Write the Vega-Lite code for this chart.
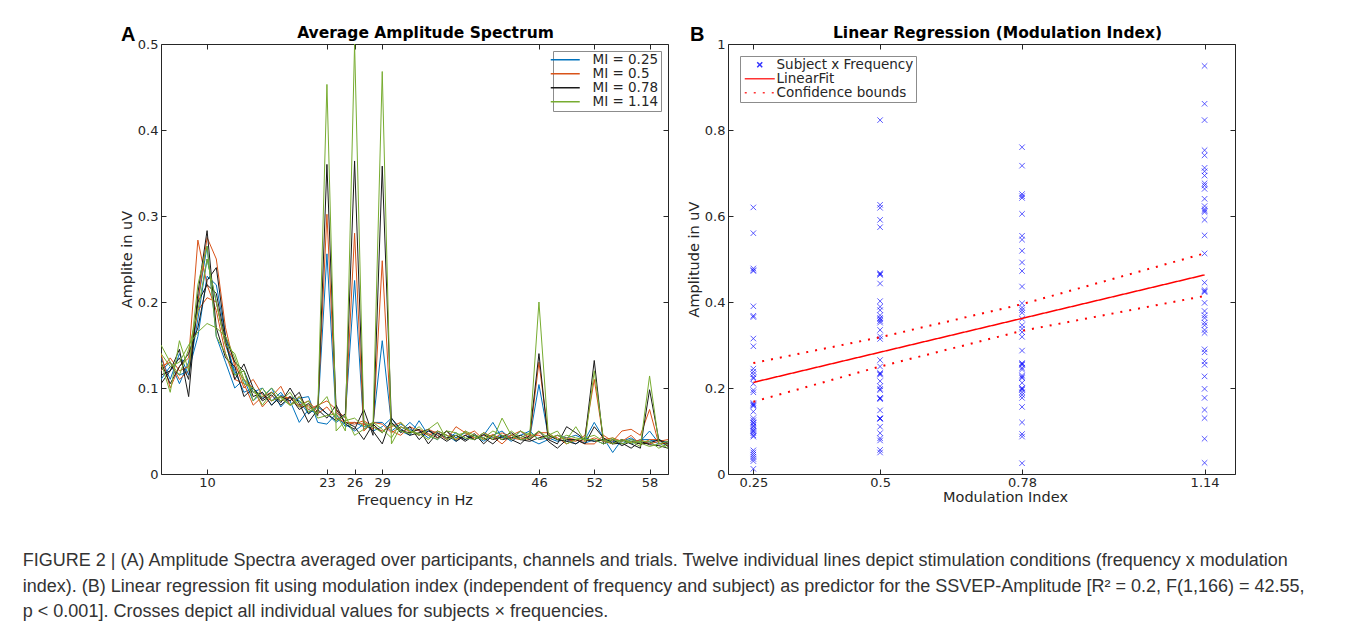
{
"$schema": "https://vega.github.io/schema/vega-lite/v6.json",
"background": "white",
"padding": {"left": 22, "top": 24, "right": 5, "bottom": 5},
"spacing": 16,
"resolve": {"scale": {"color": "independent", "shape": "independent", "strokeDash": "independent"}, "legend": {"color": "independent", "shape": "independent", "strokeDash": "independent"}},
"title": {
 "text": ["FIGURE 2 | (A) Amplitude Spectra averaged over participants, channels and trials. Twelve individual lines depict stimulation conditions (frequency x modulation", "index). (B) Linear regression fit using modulation index (independent of frequency and subject) as predictor for the SSVEP-Amplitude [R² = 0.2, F(1,166) = 42.55,", "p < 0.001]. Crosses depict all individual values for subjects × frequencies."],
 "orient": "bottom", "anchor": "start", "font": "Liberation Sans", "fontSize": 18, "fontWeight": "normal", "color": "#333333", "lineHeight": 25.5, "offset": 45, "dx": -96
},
"config": {
 "font": "DejaVu Sans",
 "view": {"stroke": "#262626", "strokeWidth": 1},
 "axis": {"grid": false, "domain": false, "ticks": true, "tickSize": -5, "tickColor": "#262626", "tickWidth": 1, "labelColor": "#262626", "labelFontSize": 13, "labelFont": "DejaVu Sans", "titleFont": "DejaVu Sans", "titleFontSize": 14.5, "titleFontWeight": "normal", "titleColor": "#262626", "labelPadding": 8},
 "legend": {"labelFont": "DejaVu Sans", "labelFontSize": 13.5, "labelColor": "#262626", "strokeColor": "#8c8c8c", "fillColor": "white", "padding": 2, "rowPadding": -2, "symbolSize": 100, "symbolStrokeWidth": 1.5, "labelLimit": 300}
},
"datasets": {
 "spec": [
{"f":4,"b23":0.14,"b26":0.12,"b29":0.13,"o23":0.125,"o26":0.11,"o29":0.14,"k23":0.145,"k26":0.11,"k29":0.13,"g23":0.15,"g26":0.155,"g29":0.135},
{"f":5,"b23":0.12,"b26":0.135,"b29":0.11,"o23":0.14,"o26":0.125,"o29":0.12,"k23":0.115,"k26":0.13,"k29":0.105,"g23":0.13,"g26":0.14,"g29":0.15},
{"f":6,"b23":0.13,"b26":0.11,"b29":0.125,"o23":0.1,"o26":0.13,"o29":0.135,"k23":0.12,"k26":0.105,"k29":0.12,"g23":0.095,"g26":0.125,"g29":0.13},
{"f":7,"b23":0.105,"b26":0.14,"b29":0.115,"o23":0.125,"o26":0.11,"o29":0.12,"k23":0.145,"k26":0.125,"k29":0.135,"g23":0.155,"g26":0.13,"g29":0.115},
{"f":8,"b23":0.13,"b26":0.115,"b29":0.12,"o23":0.135,"o26":0.12,"o29":0.125,"k23":0.09,"k26":0.14,"k29":0.11,"g23":0.12,"g26":0.15,"g29":0.145},
{"f":9,"b23":0.2,"b26":0.18,"b29":0.16,"o23":0.272,"o26":0.2,"o29":0.19,"k23":0.21,"k26":0.17,"k29":0.2,"g23":0.22,"g26":0.165,"g29":0.19},
{"f":10,"b23":0.265,"b26":0.25,"b29":0.23,"o23":0.22,"o26":0.275,"o29":0.205,"k23":0.283,"k26":0.225,"k29":0.22,"g23":0.265,"g26":0.175,"g29":0.25},
{"f":11,"b23":0.16,"b26":0.2,"b29":0.22,"o23":0.19,"o26":0.25,"o29":0.2,"k23":0.17,"k26":0.24,"k29":0.21,"g23":0.16,"g26":0.17,"g29":0.2},
{"f":12,"b23":0.13,"b26":0.15,"b29":0.16,"o23":0.14,"o26":0.17,"o29":0.15,"k23":0.135,"k26":0.16,"k29":0.155,"g23":0.14,"g26":0.16,"g29":0.15},
{"f":13,"b23":0.1,"b26":0.12,"b29":0.115,"o23":0.11,"o26":0.125,"o29":0.13,"k23":0.125,"k26":0.13,"k29":0.11,"g23":0.115,"g26":0.135,"g29":0.14},
{"f":14,"b23":0.11,"b26":0.095,"b29":0.12,"o23":0.105,"o26":0.11,"o29":0.1,"k23":0.09,"k26":0.12,"k29":0.128,"g23":0.12,"g26":0.105,"g29":0.11},
{"f":15,"b23":0.085,"b26":0.1,"b29":0.095,"o23":0.08,"o26":0.1,"o29":0.11,"k23":0.1,"k26":0.09,"k29":0.1,"g23":0.085,"g26":0.1,"g29":0.095},
{"f":16,"b23":0.095,"b26":0.088,"b29":0.1,"o23":0.09,"o26":0.078,"o29":0.092,"k23":0.085,"k26":0.095,"k29":0.087,"g23":0.1,"g26":0.08,"g29":0.09},
{"f":17,"b23":0.08,"b26":0.1,"b29":0.085,"o23":0.095,"o26":0.09,"o29":0.085,"k23":0.092,"k26":0.08,"k29":0.095,"g23":0.085,"g26":0.095,"g29":0.1},
{"f":18,"b23":0.092,"b26":0.078,"b29":0.095,"o23":0.085,"o26":0.102,"o29":0.09,"k23":0.08,"k26":0.09,"k29":0.083,"g23":0.09,"g26":0.085,"g29":0.088},
{"f":19,"b23":0.085,"b26":0.09,"b29":0.08,"o23":0.09,"o26":0.08,"o29":0.088,"k23":0.09,"k26":0.085,"k29":0.1,"g23":0.08,"g26":0.095,"g29":0.08},
{"f":20,"b23":0.06,"b26":0.085,"b29":0.088,"o23":0.08,"o26":0.09,"o29":0.078,"k23":0.075,"k26":0.095,"k29":0.082,"g23":0.085,"g26":0.078,"g29":0.09},
{"f":21,"b23":0.075,"b26":0.07,"b29":0.09,"o23":0.085,"o26":0.075,"o29":0.08,"k23":0.082,"k26":0.07,"k29":0.06,"g23":0.078,"g26":0.085,"g29":0.072},
{"f":22,"b23":0.07,"b26":0.078,"b29":0.06,"o23":0.072,"o26":0.08,"o29":0.07,"k23":0.068,"k26":0.08,"k29":0.075,"g23":0.07,"g26":0.065,"g29":0.078},
{"f":23,"b23":0.256,"b26":0.07,"b29":0.058,"o23":0.302,"o26":0.085,"o29":0.078,"k23":0.36,"k26":0.07,"k29":0.065,"g23":0.453,"g26":0.068,"g29":0.09},
{"f":24,"b23":0.065,"b26":0.06,"b29":0.07,"o23":0.072,"o26":0.075,"o29":0.065,"k23":0.075,"k26":0.062,"k29":0.08,"g23":0.05,"g26":0.07,"g29":0.062},
{"f":25,"b23":0.058,"b26":0.068,"b29":0.055,"o23":0.06,"o26":0.065,"o29":0.06,"k23":0.06,"k26":0.07,"k29":0.058,"g23":0.062,"g26":0.05,"g29":0.068},
{"f":26,"b23":0.05,"b26":0.225,"b29":0.06,"o23":0.058,"o26":0.28,"o29":0.06,"k23":0.055,"k26":0.364,"k29":0.052,"g23":0.065,"g26":0.5,"g29":0.045},
{"f":27,"b23":0.058,"b26":0.052,"b29":0.055,"o23":0.062,"o26":0.05,"o29":0.058,"k23":0.04,"k26":0.06,"k29":0.075,"g23":0.055,"g26":0.06,"g29":0.052},
{"f":28,"b23":0.05,"b26":0.06,"b29":0.058,"o23":0.055,"o26":0.06,"o29":0.052,"k23":0.058,"k26":0.05,"k29":0.045,"g23":0.06,"g26":0.055,"g29":0.058},
{"f":29,"b23":0.055,"b26":0.06,"b29":0.155,"o23":0.05,"o26":0.058,"o29":0.248,"k23":0.048,"k26":0.035,"k29":0.358,"g23":0.052,"g26":0.048,"g29":0.468},
{"f":30,"b23":0.065,"b26":0.05,"b29":0.058,"o23":0.055,"o26":0.048,"o29":0.05,"k23":0.06,"k26":0.065,"k29":0.06,"g23":0.042,"g26":0.058,"g29":0.035},
{"f":31,"b23":0.05,"b26":0.058,"b29":0.05,"o23":0.06,"o26":0.055,"o29":0.045,"k23":0.05,"k26":0.052,"k29":0.048,"g23":0.06,"g26":0.05,"g29":0.055},
{"f":32,"b23":0.045,"b26":0.052,"b29":0.06,"o23":0.048,"o26":0.05,"o29":0.055,"k23":0.048,"k26":0.045,"k29":0.055,"g23":0.05,"g26":0.047,"g29":0.05},
{"f":33,"b23":0.062,"b26":0.045,"b29":0.05,"o23":0.052,"o26":0.045,"o29":0.05,"k23":0.052,"k26":0.048,"k29":0.04,"g23":0.047,"g26":0.055,"g29":0.045},
{"f":34,"b23":0.045,"b26":0.05,"b29":0.042,"o23":0.047,"o26":0.052,"o29":0.045,"k23":0.035,"k26":0.052,"k29":0.05,"g23":0.04,"g26":0.045,"g29":0.052},
{"f":35,"b23":0.04,"b26":0.048,"b29":0.05,"o23":0.042,"o26":0.047,"o29":0.05,"k23":0.048,"k26":0.042,"k29":0.045,"g23":0.05,"g26":0.04,"g29":0.06},
{"f":36,"b23":0.05,"b26":0.04,"b29":0.045,"o23":0.05,"o26":0.04,"o29":0.045,"k23":0.042,"k26":0.05,"k29":0.038,"g23":0.045,"g26":0.05,"g29":0.04},
{"f":37,"b23":0.042,"b26":0.048,"b29":0.038,"o23":0.04,"o26":0.055,"o29":0.04,"k23":0.045,"k26":0.038,"k29":0.045,"g23":0.04,"g26":0.048,"g29":0.045},
{"f":38,"b23":0.048,"b26":0.04,"b29":0.045,"o23":0.045,"o26":0.048,"o29":0.05,"k23":0.038,"k26":0.045,"k29":0.04,"g23":0.05,"g26":0.042,"g29":0.048},
{"f":39,"b23":0.04,"b26":0.045,"b29":0.04,"o23":0.05,"o26":0.042,"o29":0.04,"k23":0.045,"k26":0.04,"k29":0.047,"g23":0.045,"g26":0.04,"g29":0.043},
{"f":40,"b23":0.045,"b26":0.038,"b29":0.048,"o23":0.04,"o26":0.045,"o29":0.048,"k23":0.042,"k26":0.046,"k29":0.035,"g23":0.042,"g26":0.048,"g29":0.04},
{"f":41,"b23":0.06,"b26":0.045,"b29":0.042,"o23":0.046,"o26":0.04,"o29":0.043,"k23":0.035,"k26":0.04,"k29":0.045,"g23":0.05,"g26":0.04,"g29":0.045},
{"f":42,"b23":0.042,"b26":0.05,"b29":0.045,"o23":0.04,"o26":0.048,"o29":0.035,"k23":0.045,"k26":0.043,"k29":0.04,"g23":0.045,"g26":0.065,"g29":0.04},
{"f":43,"b23":0.045,"b26":0.04,"b29":0.038,"o23":0.045,"o26":0.042,"o29":0.045,"k23":0.04,"k26":0.048,"k29":0.042,"g23":0.04,"g26":0.045,"g29":0.05},
{"f":44,"b23":0.04,"b26":0.05,"b29":0.045,"o23":0.05,"o26":0.04,"o29":0.042,"k23":0.035,"k26":0.04,"k29":0.045,"g23":0.05,"g26":0.04,"g29":0.042},
{"f":45,"b23":0.042,"b26":0.04,"b29":0.05,"o23":0.042,"o26":0.045,"o29":0.04,"k23":0.045,"k26":0.038,"k29":0.04,"g23":0.045,"g26":0.042,"g29":0.048},
{"f":46,"b23":0.104,"b26":0.035,"b29":0.04,"o23":0.13,"o26":0.045,"o29":0.048,"k23":0.14,"k26":0.042,"k29":0.05,"g23":0.2,"g26":0.05,"g29":0.04},
{"f":47,"b23":0.045,"b26":0.04,"b29":0.042,"o23":0.045,"o26":0.04,"o29":0.048,"k23":0.04,"k26":0.045,"k29":0.038,"g23":0.048,"g26":0.042,"g29":0.045},
{"f":48,"b23":0.04,"b26":0.045,"b29":0.038,"o23":0.042,"o26":0.045,"o29":0.04,"k23":0.035,"k26":0.04,"k29":0.03,"g23":0.04,"g26":0.045,"g29":0.05},
{"f":49,"b23":0.038,"b26":0.042,"b29":0.04,"o23":0.035,"o26":0.04,"o29":0.042,"k23":0.055,"k26":0.038,"k29":0.04,"g23":0.045,"g26":0.04,"g29":0.035},
{"f":50,"b23":0.04,"b26":0.045,"b29":0.035,"o23":0.04,"o26":0.038,"o29":0.04,"k23":0.048,"k26":0.035,"k29":0.04,"g23":0.042,"g26":0.055,"g29":0.04},
{"f":51,"b23":0.036,"b26":0.04,"b29":0.042,"o23":0.038,"o26":0.045,"o29":0.035,"k23":0.04,"k26":0.042,"k29":0.035,"g23":0.04,"g26":0.038,"g29":0.042},
{"f":52,"b23":0.04,"b26":0.06,"b29":0.038,"o23":0.042,"o26":0.11,"o29":0.035,"k23":0.038,"k26":0.132,"k29":0.055,"g23":0.04,"g26":0.12,"g29":0.045},
{"f":53,"b23":0.035,"b26":0.042,"b29":0.04,"o23":0.038,"o26":0.04,"o29":0.045,"k23":0.04,"k26":0.035,"k29":0.042,"g23":0.035,"g26":0.04,"g29":0.038},
{"f":54,"b23":0.04,"b26":0.025,"b29":0.038,"o23":0.035,"o26":0.042,"o29":0.038,"k23":0.035,"k26":0.04,"k29":0.036,"g23":0.04,"g26":0.035,"g29":0.042},
{"f":55,"b23":0.038,"b26":0.04,"b29":0.035,"o23":0.04,"o26":0.038,"o29":0.05,"k23":0.036,"k26":0.033,"k29":0.04,"g23":0.038,"g26":0.04,"g29":0.035},
{"f":56,"b23":0.042,"b26":0.035,"b29":0.04,"o23":0.036,"o26":0.045,"o29":0.052,"k23":0.03,"k26":0.038,"k29":0.035,"g23":0.04,"g26":0.036,"g29":0.038},
{"f":57,"b23":0.035,"b26":0.04,"b29":0.038,"o23":0.04,"o26":0.034,"o29":0.045,"k23":0.038,"k26":0.035,"k29":0.03,"g23":0.036,"g26":0.038,"g29":0.032},
{"f":58,"b23":0.038,"b26":0.04,"b29":0.05,"o23":0.035,"o26":0.04,"o29":0.075,"k23":0.034,"k26":0.036,"k29":0.098,"g23":0.032,"g26":0.038,"g29":0.114},
{"f":59,"b23":0.04,"b26":0.035,"b29":0.036,"o23":0.038,"o26":0.04,"o29":0.035,"k23":0.033,"k26":0.04,"k29":0.04,"g23":0.035,"g26":0.03,"g29":0.036},
{"f":60,"b23":0.036,"b26":0.038,"b29":0.034,"o23":0.04,"o26":0.033,"o29":0.036,"k23":0.03,"k26":0.035,"k29":0.032,"g23":0.038,"g26":0.035,"g29":0.03},
{"f":61,"b23":0.04,"b26":0.035,"b29":0.038,"o23":0.042,"o26":0.036,"o29":0.038,"k23":0.028,"k26":0.036,"k29":0.035,"g23":0.04,"g26":0.034,"g29":0.038}
 ],
 "mimap": [
  {"key":"b23","mi":"MI = 0.25"},{"key":"b26","mi":"MI = 0.25"},{"key":"b29","mi":"MI = 0.25"},
  {"key":"o23","mi":"MI = 0.5"},{"key":"o26","mi":"MI = 0.5"},{"key":"o29","mi":"MI = 0.5"},
  {"key":"k23","mi":"MI = 0.78"},{"key":"k26","mi":"MI = 0.78"},{"key":"k29","mi":"MI = 0.78"},
  {"key":"g23","mi":"MI = 1.14"},{"key":"g26","mi":"MI = 1.14"},{"key":"g29","mi":"MI = 1.14"}
 ],
 "smap": [
  {"mi":0.25,"s":"Subject x Frequency"},{"mi":0.5,"s":"Subject x Frequency"},{"mi":0.78,"s":"Subject x Frequency"},{"mi":1.14,"s":"Subject x Frequency"}
 ],
 "pts": [
{"mi":0.25,"amp":0.62},{"mi":0.25,"amp":0.56},{"mi":0.25,"amp":0.478},{"mi":0.25,"amp":0.474},{"mi":0.25,"amp":0.472},{"mi":0.25,"amp":0.39},{"mi":0.25,"amp":0.368},{"mi":0.25,"amp":0.365},{"mi":0.25,"amp":0.315},{"mi":0.25,"amp":0.297},{"mi":0.25,"amp":0.245},{"mi":0.25,"amp":0.238},{"mi":0.25,"amp":0.232},{"mi":0.25,"amp":0.225},{"mi":0.25,"amp":0.222},{"mi":0.25,"amp":0.21},{"mi":0.25,"amp":0.195},{"mi":0.25,"amp":0.19},{"mi":0.25,"amp":0.165},{"mi":0.25,"amp":0.162},{"mi":0.25,"amp":0.16},{"mi":0.25,"amp":0.158},{"mi":0.25,"amp":0.145},{"mi":0.25,"amp":0.13},{"mi":0.25,"amp":0.125},{"mi":0.25,"amp":0.12},{"mi":0.25,"amp":0.118},{"mi":0.25,"amp":0.113},{"mi":0.25,"amp":0.11},{"mi":0.25,"amp":0.105},{"mi":0.25,"amp":0.1},{"mi":0.25,"amp":0.1},{"mi":0.25,"amp":0.095},{"mi":0.25,"amp":0.09},{"mi":0.25,"amp":0.087},{"mi":0.25,"amp":0.055},{"mi":0.25,"amp":0.05},{"mi":0.25,"amp":0.045},{"mi":0.25,"amp":0.04},{"mi":0.25,"amp":0.035},{"mi":0.25,"amp":0.03},{"mi":0.25,"amp":0.012},
{"mi":0.5,"amp":0.823},{"mi":0.5,"amp":0.626},{"mi":0.5,"amp":0.619},{"mi":0.5,"amp":0.591},{"mi":0.5,"amp":0.574},{"mi":0.5,"amp":0.467},{"mi":0.5,"amp":0.465},{"mi":0.5,"amp":0.463},{"mi":0.5,"amp":0.443},{"mi":0.5,"amp":0.402},{"mi":0.5,"amp":0.389},{"mi":0.5,"amp":0.381},{"mi":0.5,"amp":0.369},{"mi":0.5,"amp":0.363},{"mi":0.5,"amp":0.36},{"mi":0.5,"amp":0.356},{"mi":0.5,"amp":0.352},{"mi":0.5,"amp":0.335},{"mi":0.5,"amp":0.32},{"mi":0.5,"amp":0.314},{"mi":0.5,"amp":0.265},{"mi":0.5,"amp":0.25},{"mi":0.5,"amp":0.235},{"mi":0.5,"amp":0.233},{"mi":0.5,"amp":0.231},{"mi":0.5,"amp":0.216},{"mi":0.5,"amp":0.204},{"mi":0.5,"amp":0.198},{"mi":0.5,"amp":0.195},{"mi":0.5,"amp":0.177},{"mi":0.5,"amp":0.176},{"mi":0.5,"amp":0.174},{"mi":0.5,"amp":0.148},{"mi":0.5,"amp":0.13},{"mi":0.5,"amp":0.129},{"mi":0.5,"amp":0.128},{"mi":0.5,"amp":0.11},{"mi":0.5,"amp":0.095},{"mi":0.5,"amp":0.083},{"mi":0.5,"amp":0.078},{"mi":0.5,"amp":0.056},{"mi":0.5,"amp":0.05},
{"mi":0.78,"amp":0.76},{"mi":0.78,"amp":0.717},{"mi":0.78,"amp":0.651},{"mi":0.78,"amp":0.646},{"mi":0.78,"amp":0.642},{"mi":0.78,"amp":0.605},{"mi":0.78,"amp":0.554},{"mi":0.78,"amp":0.545},{"mi":0.78,"amp":0.519},{"mi":0.78,"amp":0.492},{"mi":0.78,"amp":0.472},{"mi":0.78,"amp":0.436},{"mi":0.78,"amp":0.397},{"mi":0.78,"amp":0.387},{"mi":0.78,"amp":0.381},{"mi":0.78,"amp":0.375},{"mi":0.78,"amp":0.361},{"mi":0.78,"amp":0.346},{"mi":0.78,"amp":0.338},{"mi":0.78,"amp":0.33},{"mi":0.78,"amp":0.319},{"mi":0.78,"amp":0.287},{"mi":0.78,"amp":0.258},{"mi":0.78,"amp":0.256},{"mi":0.78,"amp":0.254},{"mi":0.78,"amp":0.247},{"mi":0.78,"amp":0.243},{"mi":0.78,"amp":0.229},{"mi":0.78,"amp":0.226},{"mi":0.78,"amp":0.223},{"mi":0.78,"amp":0.212},{"mi":0.78,"amp":0.2},{"mi":0.78,"amp":0.198},{"mi":0.78,"amp":0.196},{"mi":0.78,"amp":0.19},{"mi":0.78,"amp":0.184},{"mi":0.78,"amp":0.177},{"mi":0.78,"amp":0.156},{"mi":0.78,"amp":0.12},{"mi":0.78,"amp":0.093},{"mi":0.78,"amp":0.087},{"mi":0.78,"amp":0.025},
{"mi":1.14,"amp":0.949},{"mi":1.14,"amp":0.861},{"mi":1.14,"amp":0.823},{"mi":1.14,"amp":0.753},{"mi":1.14,"amp":0.741},{"mi":1.14,"amp":0.712},{"mi":1.14,"amp":0.704},{"mi":1.14,"amp":0.694},{"mi":1.14,"amp":0.676},{"mi":1.14,"amp":0.671},{"mi":1.14,"amp":0.663},{"mi":1.14,"amp":0.64},{"mi":1.14,"amp":0.623},{"mi":1.14,"amp":0.616},{"mi":1.14,"amp":0.612},{"mi":1.14,"amp":0.609},{"mi":1.14,"amp":0.591},{"mi":1.14,"amp":0.555},{"mi":1.14,"amp":0.513},{"mi":1.14,"amp":0.445},{"mi":1.14,"amp":0.428},{"mi":1.14,"amp":0.425},{"mi":1.14,"amp":0.423},{"mi":1.14,"amp":0.398},{"mi":1.14,"amp":0.379},{"mi":1.14,"amp":0.369},{"mi":1.14,"amp":0.363},{"mi":1.14,"amp":0.352},{"mi":1.14,"amp":0.346},{"mi":1.14,"amp":0.335},{"mi":1.14,"amp":0.328},{"mi":1.14,"amp":0.29},{"mi":1.14,"amp":0.283},{"mi":1.14,"amp":0.262},{"mi":1.14,"amp":0.254},{"mi":1.14,"amp":0.227},{"mi":1.14,"amp":0.198},{"mi":1.14,"amp":0.177},{"mi":1.14,"amp":0.149},{"mi":1.14,"amp":0.13},{"mi":1.14,"amp":0.082},{"mi":1.14,"amp":0.026}
 ],
 "fit": [
  {"mi":0.25,"amp":0.213,"s":"LinearFit","g":"fit"},{"mi":1.14,"amp":0.463,"s":"LinearFit","g":"fit"}
 ],
 "ci": [
  {"mi":0.25,"amp":0.258,"s":"Confidence bounds","g":"up"},{"mi":0.5,"amp":0.318,"s":"Confidence bounds","g":"up"},{"mi":0.78,"amp":0.395,"s":"Confidence bounds","g":"up"},{"mi":1.14,"amp":0.513,"s":"Confidence bounds","g":"up"},
  {"mi":0.25,"amp":0.168,"s":"Confidence bounds","g":"lo"},{"mi":0.5,"amp":0.25,"s":"Confidence bounds","g":"lo"},{"mi":0.78,"amp":0.333,"s":"Confidence bounds","g":"lo"},{"mi":1.14,"amp":0.414,"s":"Confidence bounds","g":"lo"}
 ]
},
"hconcat": [
 {
  "width": 507, "height": 430,
  "title": {"text": "A", "anchor": "start", "frame": "group", "dx": -40, "dy": 19, "fontSize": 20, "fontWeight": "bold", "font": "Liberation Sans", "color": "#000000", "offset": 0},
  "data": {"name": "spec"},
  "transform": [
   {"fold": ["b23","b26","b29","o23","o26","o29","k23","k26","k29","g23","g26","g29"], "as": ["key","amp"]},
   {"lookup": "key", "from": {"data": {"name": "mimap"}, "key": "key", "fields": ["mi"]}}
  ],
  "layer": [
   {
    "mark": {"type": "line", "strokeWidth": 1, "clip": true},
    "encoding": {
     "x": {"field": "f", "type": "quantitative", "scale": {"domain": [5, 60], "nice": false, "zero": false}, "axis": {"orient": "bottom", "values": [10,23,26,29,46,52,58], "title": "Frequency in Hz", "titlePadding": 4, "labelPadding": 7, "format": ".2~f"}},
     "y": {"field": "amp", "type": "quantitative", "scale": {"domain": [0, 0.5], "nice": false}, "axis": {"orient": "left", "values": [0,0.1,0.2,0.3,0.4,0.5], "title": "Amplite in uV", "titlePadding": 3, "format": ".2~f"}},
     "color": {"field": "mi", "type": "nominal", "scale": {"domain": ["MI = 0.25","MI = 0.5","MI = 0.78","MI = 1.14"], "range": ["#0072BD","#D95319","#1a1a1a","#77AC30"]}, "legend": {"title": null, "orient": "top-right", "offset": 7, "symbolType": "M-4.4,0H1.4", "symbolOffset": 11, "labelOffset": 13}},
     "detail": {"field": "key", "type": "nominal"}
    }
   },
   {
    "mark": {"type": "point", "opacity": 0, "clip": true},
    "encoding": {
     "x": {"field": "f", "type": "quantitative", "axis": {"orient": "top", "values": [10,23,26,29,46,52,58], "labels": false, "title": "Average Amplitude Spectrum", "titleFontSize": 15.5, "titleFontWeight": "bold", "titleColor": "#000000", "titlePadding": 3, "titleX": 264}},
     "y": {"field": "amp", "type": "quantitative", "axis": {"orient": "right", "values": [0,0.1,0.2,0.3,0.4,0.5], "labels": false, "title": null}}
    }
   }
  ],
  "resolve": {"axis": {"x": "independent", "y": "independent"}}
 },
 {
  "width": 507, "height": 430,
  "title": {"text": "B", "anchor": "start", "frame": "group", "dx": -38, "dy": 19, "fontSize": 20, "fontWeight": "bold", "font": "Liberation Sans", "color": "#000000", "offset": 0},
  "layer": [
   {
    "data": {"name": "pts"},
    "transform": [{"lookup": "mi", "from": {"data": {"name": "smap"}, "key": "mi", "fields": ["s"]}}],
    "mark": {"type": "point", "filled": false, "size": 120, "strokeWidth": 0.8, "opacity": 0.8},
    "encoding": {
     "x": {"field": "mi", "type": "quantitative", "scale": {"domain": [0.2, 1.2], "nice": false, "zero": false}, "axis": {"orient": "bottom", "values": [0.25,0.5,0.78,1.14], "title": "Modulation Index", "titlePadding": 1, "labelPadding": 7, "format": ".2~f", "titleX": 277}},
     "y": {"field": "amp", "type": "quantitative", "scale": {"domain": [0, 1], "nice": false}, "axis": {"orient": "left", "values": [0,0.2,0.4,0.6,0.8,1], "title": "Amplitude in uV", "titlePadding": 3, "format": ".2~f"}},
     "color": {"field": "s", "type": "nominal", "scale": {"domain": ["Subject x Frequency","LinearFit","Confidence bounds"], "range": ["#0000ff","#ff0000","#ff0000"]}, "legend": {"title": null, "orient": "top-left", "offset": 12, "symbolOffset": 11, "labelOffset": 10}},
     "shape": {"field": "s", "type": "nominal", "scale": {"domain": ["Subject x Frequency","LinearFit","Confidence bounds"], "range": ["M-0.5,-0.5L0.5,0.5M0.5,-0.5L-0.5,0.5","M-3,0H3","M-3,0H3"]}, "legend": {"title": null}}
    }
   },
   {
    "data": {"name": "fit"},
    "mark": {"type": "line", "strokeWidth": 1.5},
    "encoding": {
     "x": {"field": "mi", "type": "quantitative", "axis": null},
     "y": {"field": "amp", "type": "quantitative", "axis": null},
     "color": {"field": "s", "type": "nominal"},
     "strokeDash": {"field": "s", "type": "nominal", "scale": {"domain": ["Subject x Frequency","LinearFit","Confidence bounds"], "range": [[1,0],[1,0],[2,7]]}, "legend": {"title": null}},
     "detail": {"field": "g", "type": "nominal"}
    }
   },
   {
    "data": {"name": "ci"},
    "mark": {"type": "line", "strokeWidth": 2},
    "encoding": {
     "x": {"field": "mi", "type": "quantitative", "axis": null},
     "y": {"field": "amp", "type": "quantitative", "axis": null},
     "color": {"field": "s", "type": "nominal"},
     "strokeDash": {"field": "s", "type": "nominal"},
     "detail": {"field": "g", "type": "nominal"}
    }
   },
   {
    "data": {"name": "pts"},
    "mark": {"type": "point", "opacity": 0},
    "encoding": {
     "x": {"field": "mi", "type": "quantitative", "axis": {"orient": "top", "values": [0.25,0.5,0.78,1.14], "labels": false, "title": "Linear Regression (Modulation Index)", "titleFontSize": 15.5, "titleFontWeight": "bold", "titleColor": "#000000", "titlePadding": 3, "titleX": 269}},
     "y": {"field": "amp", "type": "quantitative", "axis": {"orient": "right", "values": [0,0.2,0.4,0.6,0.8,1], "labels": false, "title": null}}
    }
   }
  ],
  "resolve": {"axis": {"x": "independent", "y": "independent"}}
 }
]
}
